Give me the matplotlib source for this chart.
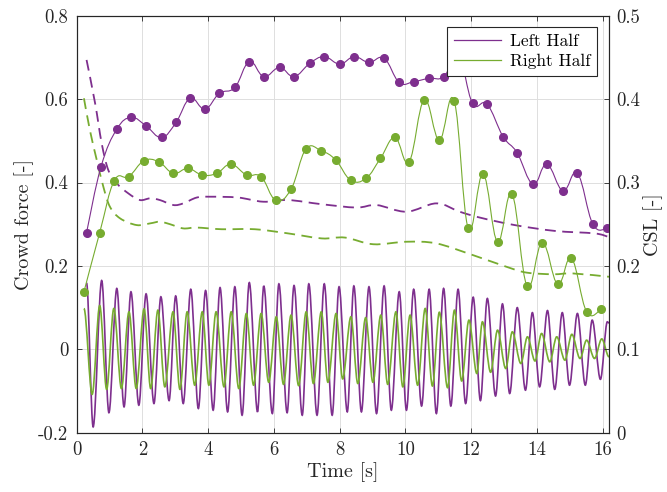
import numpy as np
import matplotlib
matplotlib.use('Agg')
import matplotlib.pyplot as plt
from matplotlib.path import Path
from matplotlib.patches import PathPatch
from matplotlib.lines import Line2D

plt.rcParams['font.family'] = 'cmr10'
plt.rcParams['mathtext.fontset'] = 'cm'
plt.rcParams['axes.unicode_minus'] = False

# ---- crowd force, left half (peaks / troughs of the oscillation) ----
left_start = (0.30, 0.159)
left_end = (16.19, 0.063)
left_peak_t = [0.76, 1.22, 1.65, 2.11, 2.56, 3.01, 3.47, 3.92, 4.36, 4.81, 5.25, 5.69,
               6.15, 6.61, 7.06, 7.53, 7.98, 8.43, 8.89, 9.35, 9.81, 10.25, 10.72, 11.16,
               11.60, 12.06, 12.49, 12.95, 13.40, 13.86, 14.32, 14.77, 15.23, 15.68, 16.14]
left_peak_f = [0.165, 0.146, 0.138, 0.133, 0.126, 0.128, 0.144, 0.141, 0.148, 0.150, 0.160, 0.152,
               0.157, 0.153, 0.157, 0.157, 0.150, 0.152, 0.150, 0.152, 0.138, 0.144, 0.144, 0.146,
               0.144, 0.125, 0.122, 0.109, 0.100, 0.088, 0.093, 0.088, 0.086, 0.070, 0.066]
left_trough_t = [0.50, 0.98, 1.44, 1.89, 2.35, 2.81, 3.24, 3.70, 4.15, 4.59, 5.03, 5.50,
                 5.95, 6.40, 6.86, 7.31, 7.77, 8.23, 8.66, 9.12, 9.57, 10.03, 10.49, 10.94,
                 11.38, 11.83, 12.28, 12.74, 13.17, 13.65, 14.08, 14.54, 14.99, 15.47, 15.93]
left_trough_f = [-0.186, -0.152, -0.138, -0.134, -0.130, -0.123, -0.130, -0.142, -0.146, -0.150, -0.158, -0.150,
                 -0.154, -0.152, -0.158, -0.158, -0.158, -0.150, -0.150, -0.154, -0.146, -0.146, -0.136, -0.154,
                 -0.136, -0.130, -0.123, -0.112, -0.106, -0.098, -0.090, -0.096, -0.086, -0.086, -0.072]

# ---- crowd force, right half ----
right_start = (0.22, 0.098)
right_end = (16.19, -0.018)
right_peak_t = [0.70, 1.13, 1.59, 2.05, 2.47, 2.93, 3.36, 3.82, 4.24, 4.70, 5.16, 5.61,
                6.07, 6.52, 6.98, 7.44, 7.89, 8.34, 8.79, 9.25, 9.71, 10.14, 10.60, 11.03,
                11.49, 11.93, 12.34, 12.80, 13.25, 13.71, 14.14, 14.60, 15.06, 15.51, 15.97]
right_peak_f = [0.105, 0.098, 0.090, 0.097, 0.094, 0.090, 0.090, 0.090, 0.090, 0.090, 0.086, 0.086,
                0.078, 0.082, 0.090, 0.090, 0.086, 0.078, 0.076, 0.082, 0.090, 0.082, 0.098, 0.089,
                0.094, 0.070, 0.066, 0.046, 0.042, 0.030, 0.038, 0.030, 0.036, 0.022, 0.025]
right_trough_t = [0.47, 0.91, 1.36, 1.81, 2.25, 2.68, 3.14, 3.59, 4.02, 4.48, 4.93, 5.38,
                  5.84, 6.29, 6.75, 7.20, 7.64, 8.09, 8.55, 9.01, 9.46, 9.92, 10.37, 10.82,
                  11.28, 11.71, 12.17, 12.59, 13.05, 13.51, 13.94, 14.39, 14.85, 15.31, 15.75]
right_trough_f = [-0.108, -0.096, -0.094, -0.094, -0.094, -0.090, -0.096, -0.086, -0.086, -0.090, -0.094, -0.086,
                  -0.079, -0.084, -0.087, -0.082, -0.079, -0.071, -0.082, -0.079, -0.084, -0.090, -0.086, -0.088,
                  -0.092, -0.076, -0.058, -0.055, -0.046, -0.034, -0.028, -0.030, -0.026, -0.022, -0.022]

# ---- CSL per cycle (markers) ----
csl_left_t = [0.30, 0.74, 1.22, 1.66, 2.11, 2.58, 3.02, 3.45, 3.90, 4.34, 4.81, 5.25,
              5.69, 6.17, 6.61, 7.09, 7.53, 8.00, 8.44, 8.89, 9.35, 9.81, 10.25, 10.72,
              11.17, 11.61, 12.04, 12.48, 12.97, 13.39, 13.88, 14.30, 14.79, 15.23, 15.70, 16.14]
csl_left = [0.240, 0.319, 0.364, 0.378, 0.368, 0.354, 0.372, 0.401, 0.388, 0.407, 0.414, 0.445,
            0.427, 0.438, 0.427, 0.443, 0.451, 0.442, 0.451, 0.444, 0.449, 0.420, 0.421, 0.425,
            0.427, 0.453, 0.395, 0.394, 0.355, 0.336, 0.298, 0.322, 0.290, 0.311, 0.250, 0.245]
csl_right_t = [0.22, 0.70, 1.14, 1.58, 2.04, 2.49, 2.94, 3.38, 3.82, 4.26, 4.69, 5.17,
               5.61, 6.05, 6.52, 6.97, 7.44, 7.88, 8.33, 8.80, 9.24, 9.68, 10.11, 10.57,
               11.03, 11.48, 11.91, 12.36, 12.80, 13.24, 13.70, 14.16, 14.63, 15.05, 15.51, 15.95]
csl_right = [0.169, 0.240, 0.302, 0.307, 0.326, 0.325, 0.311, 0.317, 0.309, 0.311, 0.322, 0.309,
             0.307, 0.279, 0.292, 0.340, 0.338, 0.327, 0.303, 0.305, 0.329, 0.354, 0.325, 0.399,
             0.351, 0.398, 0.245, 0.310, 0.229, 0.286, 0.176, 0.228, 0.178, 0.209, 0.145, 0.148]

# ---- running CSL (dashed) ----
run_left_t = [0.30, 0.56, 0.76, 0.96, 1.22, 1.57, 1.92, 2.23, 2.53, 2.94, 3.24, 3.65, 4.05,
              4.91, 5.67, 6.43, 7.45, 8.51, 9.12, 10.03, 10.94, 11.65, 12.26, 13.32, 14.54, 15.75, 16.16]
run_left = [0.447, 0.395, 0.347, 0.315, 0.299, 0.287, 0.279, 0.281, 0.279, 0.273, 0.275, 0.282, 0.283,
            0.282, 0.277, 0.279, 0.274, 0.270, 0.273, 0.265, 0.275, 0.265, 0.258, 0.249, 0.242, 0.239, 0.235]
run_right_t = [0.22, 0.40, 0.61, 0.81, 1.01, 1.32, 1.82, 2.23, 2.53, 2.84, 3.24, 3.65, 4.41,
               5.42, 6.43, 7.45, 8.16, 9.02, 10.03, 10.94, 12.05, 13.07, 13.68, 14.49, 15.09, 16.19]
run_right = [0.401, 0.363, 0.327, 0.295, 0.271, 0.257, 0.249, 0.251, 0.253, 0.250, 0.245, 0.246, 0.244,
             0.244, 0.239, 0.233, 0.234, 0.226, 0.229, 0.227, 0.213, 0.199, 0.192, 0.190, 0.191, 0.187]

purple = '#7E2F8E'
green = '#77AC30'


def wave_path(start, pk_t, pk_y, tr_t, tr_y, end):
    # smooth curve through the extrema, flat tangent at every turning point
    pts = sorted([start, end] + list(zip(pk_t, pk_y)) + list(zip(tr_t, tr_y)))
    verts = [pts[0]]
    codes = [Path.MOVETO]
    for (t0, y0), (t1, y1) in zip(pts[:-1], pts[1:]):
        dt = t1 - t0
        verts += [(t0 + dt / 3, y0), (t1 - dt / 3, y1), (t1, y1)]
        codes += [Path.CURVE4] * 3
    return Path(verts, codes)


def spline_path(t, y, k=5.0):
    # Catmull-Rom style curve through the points
    p = np.column_stack([t, y])
    p = np.vstack([p[0], p, p[-1]])
    verts = [tuple(p[1])]
    codes = [Path.MOVETO]
    for i in range(1, len(p) - 2):
        c1 = p[i] + (p[i + 1] - p[i - 1]) / k
        c2 = p[i + 1] - (p[i + 2] - p[i]) / k
        verts += [tuple(c1), tuple(c2), tuple(p[i + 1])]
        codes += [Path.CURVE4] * 3
    return Path(verts, codes)


fig = plt.figure(figsize=(6.67, 4.92), dpi=100)
ax = fig.add_axes([0.115, 0.1205, 0.7985, 0.8475])
ax2 = ax.twinx()

ax.add_patch(PathPatch(wave_path(left_start, left_peak_t, left_peak_f, left_trough_t, left_trough_f, left_end),
                       fill=False, edgecolor=purple, lw=1.2))
ax.add_patch(PathPatch(wave_path(right_start, right_peak_t, right_peak_f, right_trough_t, right_trough_f, right_end),
                       fill=False, edgecolor=green, lw=1.2))

dash = (0, (6.0, 3.6))
ax2.add_patch(PathPatch(spline_path(run_left_t, run_left, 6.0), fill=False, edgecolor=purple,
                        lw=1.3, linestyle=dash))
ax2.add_patch(PathPatch(spline_path(run_right_t, run_right, 6.0), fill=False, edgecolor=green,
                        lw=1.3, linestyle=dash))
ax2.add_patch(PathPatch(spline_path(csl_left_t, csl_left), fill=False, edgecolor=purple, lw=0.8))
ax2.add_patch(PathPatch(spline_path(csl_right_t, csl_right), fill=False, edgecolor=green, lw=0.8))
ax2.plot(csl_left_t, csl_left, 'o', color=purple, ms=5.5, ls='none')
ax2.plot(csl_right_t, csl_right, 'o', color=green, ms=5.5, ls='none')

ax.set_xlim(0, 16.2)
ax.set_ylim(-0.2, 0.8)
ax2.set_ylim(0, 0.5)

ax.set_xticks(np.arange(0, 17, 2))
ax.set_xticklabels([str(v) for v in range(0, 17, 2)])
ax.set_yticks([-0.2, 0, 0.2, 0.4, 0.6, 0.8])
ax.set_yticklabels(['-0.2', '0', '0.2', '0.4', '0.6', '0.8'])
ax2.set_yticks([0, 0.1, 0.2, 0.3, 0.4, 0.5])
ax2.set_yticklabels(['0', '0.1', '0.2', '0.3', '0.4', '0.5'])

dark = '#262626'
for a in (ax, ax2):
    for s in a.spines.values():
        s.set_color(dark)
        s.set_linewidth(0.8)
ax.tick_params(direction='in', length=3.5, width=0.6, top=True, colors=dark, labelsize=13.5, pad=6)
ax2.tick_params(direction='in', length=3.5, width=0.6, colors=dark, labelsize=13.5, pad=5)
ax.grid(True, color='#dedede', lw=0.7)
ax.set_axisbelow(True)

ax.set_xlabel('Time [s]', fontsize=14.5, color=dark, labelpad=2)
ax.set_ylabel('Crowd force [-]', fontsize=14.5, color=dark, labelpad=3)
ax2.set_ylabel('CSL [-]', fontsize=14.5, color=dark, labelpad=2)

handles = [Line2D([], [], color=purple, lw=0.9), Line2D([], [], color=green, lw=0.9)]
leg = ax2.legend(handles, ['Left Half', 'Right Half'], loc='upper right', bbox_to_anchor=(0.977, 0.973),
                 borderaxespad=0, fontsize=12.5, fancybox=False, framealpha=1, edgecolor=dark,
                 handlelength=2.7, handletextpad=0.5, borderpad=0.4, labelspacing=0.25)
leg.get_frame().set_linewidth(0.8)

fig.savefig('out.png', dpi=100)
